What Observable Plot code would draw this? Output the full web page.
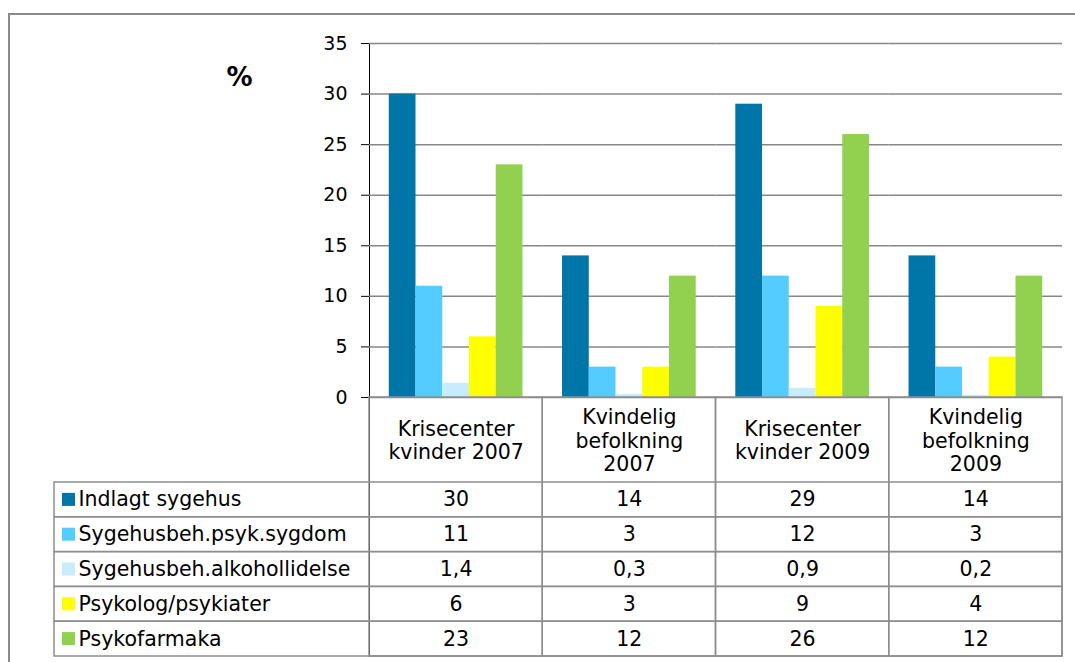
<!DOCTYPE html>
<html><head><meta charset="utf-8">
<script src="https://cdn.jsdelivr.net/npm/d3@7"></script>
<script src="https://cdn.jsdelivr.net/npm/@observablehq/plot@0.6"></script>
<style>
html,body{margin:0;padding:0;background:#fff;overflow:hidden;}
#chart svg{font-family:"DejaVu Sans",Verdana,sans-serif;}
g[aria-label="y-axis tick"]{stroke:#868686;}
</style></head><body><div id="chart"></div>
<script>
// ---- data ----
const categories = ["Krisecenter kvinder 2007", "Kvindelig befolkning 2007", "Krisecenter kvinder 2009", "Kvindelig befolkning 2009"];
const categoryLabels = ["Krisecenter\nkvinder 2007", "Kvindelig\nbefolkning\n2007", "Krisecenter\nkvinder 2009", "Kvindelig\nbefolkning\n2009"];
const series = ["Indlagt sygehus", "Sygehusbeh.psyk.sygdom", "Sygehusbeh.alkohollidelse", "Psykolog/psykiater", "Psykofarmaka"];
const indlagtSygehus = [30, 14, 29, 14];
const sygehusbehPsyk = [11, 3, 12, 3];
const sygehusbehAlkohol = [1.4, 0.3, 0.9, 0.2];
const psykologPsykiater = [6, 3, 9, 4];
const psykofarmaka = [23, 12, 26, 12];
const yTicks = [0, 5, 10, 15, 20, 25, 30, 35];
const yLabel = "%";

const seriesValues = [indlagtSygehus, sygehusbehPsyk, sygehusbehAlkohol, psykologPsykiater, psykofarmaka];
const colors = ["#0075A8", "#55CCFF", "#C6ECFD", "#FFFF00", "#92D050"];
const data = series.flatMap((s, i) => categories.map((c, j) => ({series: s, category: c, value: seriesValues[i][j]})));

// ---- layout ----
const W = 1075, H = 662;
const pLeft = 369, pRight = 1062, pTop = 43, zeroY = 397, headerBottom = 482, tableBottom = 656;
const rowH = (tableBottom - headerBottom) / series.length;
const colW = (pRight - pLeft) / categories.length;
const legendLeft = 54, swatchLeft = 62, swatchSize = 13, legendText = 78;
const grid = "#878787";
const lineC = "#8e8e8e";
const first = categories[0];
const fmt = v => String(v).replace(".", ",");
const fs = 19, tfs = 20.5;

const marks = [
  // outer chart border
  Plot.rect([0], {fx: () => first, fill: "none", stroke: "#8a8a8a", strokeWidth: 2,
    insetLeft: 9 - pLeft, insetTop: 14 - pTop, insetRight: -(W + 20 - (pLeft + colW)), insetBottom: -(H + 20 - tableBottom)}),
  Plot.ruleY(yTicks, {stroke: grid, strokeWidth: 1.5}),
  Plot.barY(data, {fx: "category", x: "series", y: "value", fill: "series"}),
  // table columns (header + rows)
  Plot.rect(categories, {fx: d => d, fill: "none", stroke: lineC, strokeWidth: 1.5, insetTop: zeroY - pTop}),
  Plot.text(categoryLabels, {fx: (d, i) => categories[i], text: d => d, frameAnchor: "top", lineAnchor: "middle",
    dy: (zeroY + headerBottom) / 2 - pTop, lineHeight: 1.15, fontSize: tfs}),
  // % label
  Plot.text([yLabel], {fx: () => first, text: d => d, frameAnchor: "top-left", lineAnchor: "middle", dx: 239 - pLeft, dy: 77 - pTop,
    textAnchor: "middle", fontWeight: "bold", fontSize: 26})
];

series.forEach((s, i) => {
  const rTop = headerBottom + i * rowH, rBot = rTop + rowH, rMid = rTop + rowH / 2;
  marks.push(
    Plot.rect([s], {fx: () => first, fill: "none", stroke: lineC, strokeWidth: 1.5,
      insetLeft: legendLeft - pLeft, insetRight: -(pRight - (pLeft + colW)), insetTop: rTop - pTop, insetBottom: tableBottom - rBot}),
    Plot.rect([s], {fx: () => first, fill: colors[i],
      insetLeft: swatchLeft - pLeft, insetRight: (pLeft + colW) - (swatchLeft + swatchSize),
      insetTop: rMid - swatchSize / 2 - pTop, insetBottom: tableBottom - (rMid + swatchSize / 2)}),
    Plot.text([s], {fx: () => first, text: d => d, frameAnchor: "top-left", lineAnchor: "middle", dx: legendText - pLeft, dy: rMid - pTop,
      textAnchor: "start", fontSize: tfs}),
    Plot.text(data.filter(d => d.series === s), {fx: "category", text: d => fmt(d.value), frameAnchor: "top", lineAnchor: "middle",
      dy: rMid - pTop, fontSize: tfs})
  );
});

const chart = Plot.plot({
  width: W, height: H,
  marginLeft: pLeft, marginRight: W - pRight, marginTop: pTop, marginBottom: H - tableBottom,
  style: {fontFamily: "DejaVu Sans, Verdana, sans-serif", fontSize: fs + "px", color: "black", background: "white", overflow: "hidden"},
  fx: {domain: categories, padding: 0, axis: null, round: false},
  x: {domain: series, paddingInner: 0, paddingOuter: 0.74, axis: null, round: false},
  y: {domain: [0, 35], range: [zeroY, pTop], ticks: yTicks, tickSize: 8, tickPadding: 14, line: true, label: null},
  color: {domain: series, range: colors},
  marks
});
document.getElementById("chart").appendChild(chart);
</script></body></html>
